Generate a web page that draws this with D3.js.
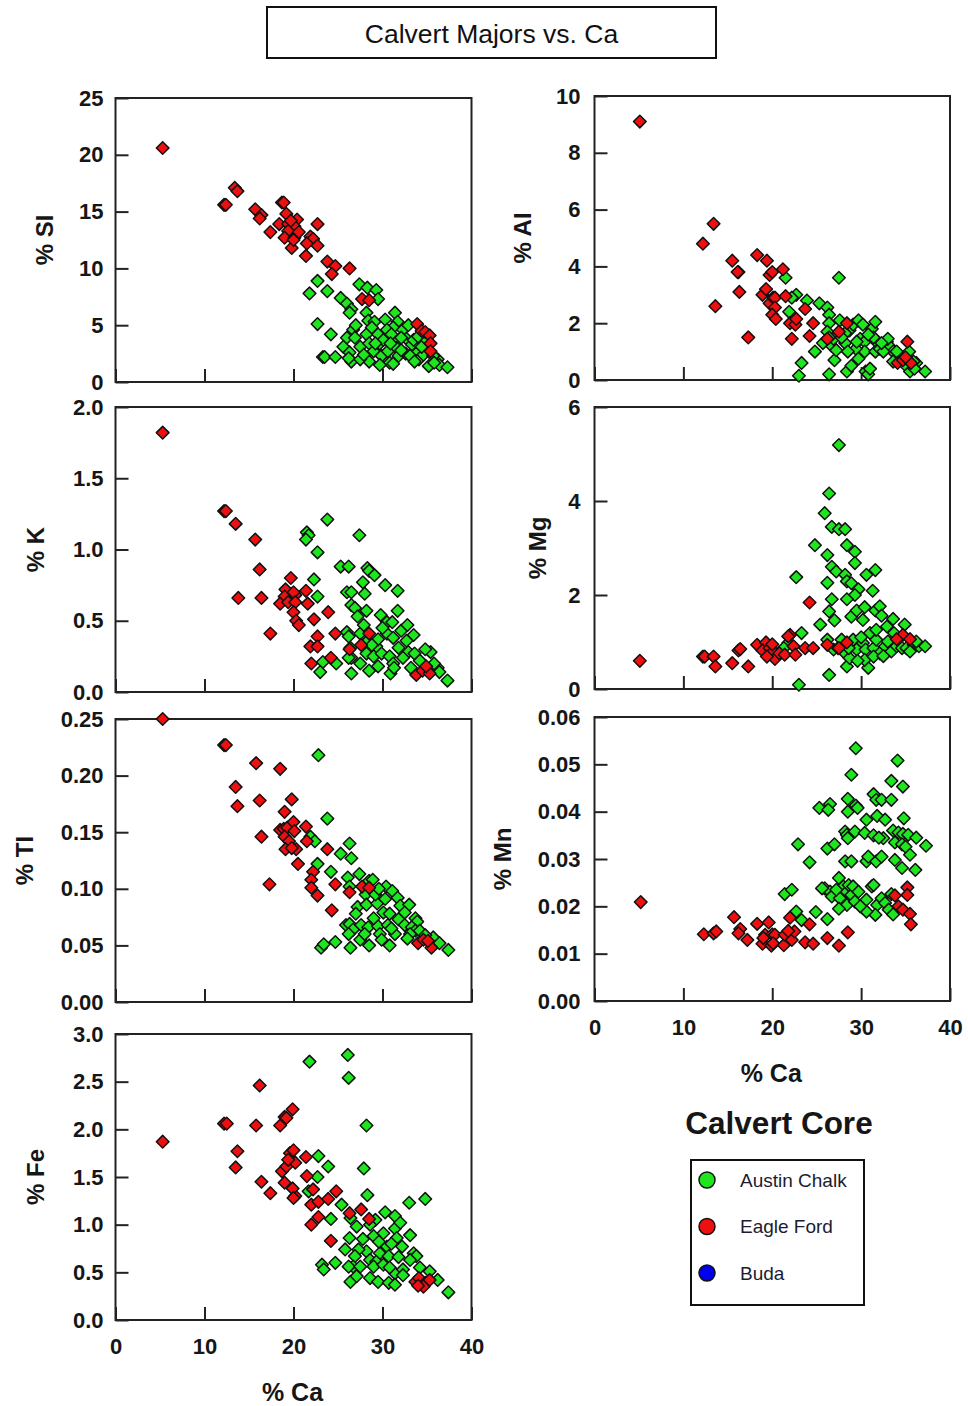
<!DOCTYPE html>
<html>
<head>
<meta charset="utf-8">
<script src="https://cdn.jsdelivr.net/npm/d3@7"></script>
<style>
  body { margin: 0; background: #fff; }
  svg { display: block; }
</style>
</head>
<body>
<div id="chart"></div>
<script>
// ---- data: [ % Ca , % element ] ----
const siChalk = [[22.7,8.9],[21.8,7.8],[23.8,8.0],[22.7,5.1],[24.2,4.2],[23.3,2.2],[23.5,2.2],[24.7,2.2],[25.3,7.4],[26.0,6.9],[26.5,6.4],[26.3,6.1],[27.4,8.6],[28.3,8.3],[29.3,8.1],[29.5,7.3],[28.2,6.1],[28.4,5.4],[29.1,5.3],[30.3,5.5],[31.4,6.1],[31.7,5.3],[26.7,4.6],[26.0,3.9],[26.9,3.9],[25.6,3.1],[26.3,2.6],[26.5,1.8],[26.2,2.1],[27.5,3.1],[28.2,4.2],[28.5,3.4],[28.5,1.8],[29.0,2.7],[29.7,3.4],[29.9,2.3],[30.5,3.9],[30.6,2.7],[30.8,1.7],[31.2,4.8],[31.4,3.5],[31.6,3.0],[31.8,2.3],[32.3,4.6],[32.7,3.8],[32.6,2.5],[33.3,3.3],[33.5,3.7],[33.8,2.5],[34.1,2.0],[34.6,2.4],[35.2,1.4],[36.2,2.0],[36.4,1.5],[37.3,1.3],[34.4,3.1],[35.0,3.7],[35.7,2.3],[30.5,4.6],[29.5,4.2],[30.1,3.7],[29.2,3.4],[31.0,4.2],[32.1,2.8],[33.1,2.3],[32.1,3.9],[30.9,3.4],[34.0,4.0],[27.5,2.0],[27.9,2.4],[28.8,4.8],[27.0,5.0],[32.9,5.0],[33.6,1.8],[31.2,1.6],[29.7,1.5],[35.8,1.7]];
const siEagle = [[5.3,20.6],[13.4,17.1],[13.7,16.8],[12.2,15.6],[12.4,15.6],[15.7,15.2],[16.4,14.7],[16.2,14.4],[17.4,13.2],[18.7,15.8],[18.9,15.8],[19.2,14.8],[18.4,13.9],[19.4,13.9],[20.4,14.3],[20.1,13.7],[19.4,13.3],[19.0,12.7],[20.1,12.7],[19.8,11.8],[20.6,13.2],[19.7,14.2],[20.0,12.5],[22.7,13.9],[21.9,12.8],[22.2,12.6],[21.5,12.2],[22.7,12.0],[21.4,11.1],[23.8,10.6],[24.7,10.2],[24.3,9.5],[26.3,10.0],[27.7,7.3],[28.5,7.2],[33.9,5.1],[34.4,4.5],[34.8,4.4],[35.3,4.1],[35.4,3.4],[35.4,2.7]];

const alChalk = [[21.5,3.6],[27.5,3.6],[22.7,3.0],[22.2,2.9],[21.9,2.4],[23.9,2.8],[25.3,2.7],[26.2,2.55],[26.4,2.3],[26.4,2.0],[24.8,1.0],[23.3,0.6],[23.0,0.15],[26.4,0.2],[28.4,0.3],[28.9,0.5],[30.5,0.3],[30.8,0.2],[31.0,0.4],[26.2,1.7],[26.7,1.2],[27.0,0.7],[26.9,1.45],[27.6,2.1],[28.7,1.75],[28.2,1.3],[29.1,1.95],[29.7,2.1],[29.9,1.45],[30.4,1.35],[30.4,1.0],[30.2,1.95],[31.2,1.8],[31.6,2.05],[31.7,1.35],[31.6,1.0],[32.1,1.1],[32.9,1.35],[33.3,1.15],[33.6,1.0],[33.0,1.45],[34.4,0.75],[34.9,0.55],[35.4,1.0],[36.2,0.6],[37.2,0.3],[35.5,0.3],[28.2,1.65],[27.2,1.05],[29.4,1.1],[25.7,1.3],[26.4,1.5],[28.5,1.0],[29.5,1.35],[31.4,1.5],[32.5,1.0],[33.6,0.65],[34.0,1.0],[35.9,0.65],[29.7,0.75],[27.8,1.5],[30.8,1.6],[32.3,1.3],[36.0,0.4]];
const alEagle = [[5.1,9.1],[13.4,5.5],[12.2,4.8],[13.6,2.6],[15.5,4.2],[16.2,3.8],[16.1,3.8],[16.3,3.1],[17.3,1.5],[18.3,4.4],[19.4,4.2],[19.7,3.7],[20.0,3.8],[18.9,3.0],[19.3,3.2],[19.7,2.7],[20.1,2.9],[20.3,2.9],[20.3,2.55],[20.0,2.3],[20.4,2.15],[21.2,3.9],[21.5,2.95],[22.0,2.0],[22.6,1.95],[22.7,2.15],[22.2,1.45],[23.7,2.5],[24.2,1.55],[24.6,2.0],[26.2,1.45],[27.5,1.7],[28.4,2.0],[35.2,1.35],[34.1,0.6],[34.7,0.7],[35.6,0.6],[35.0,0.8]];

const kChalk = [[23.8,1.21],[21.5,1.12],[21.7,1.10],[21.4,1.07],[22.7,0.98],[27.4,1.10],[22.3,0.79],[22.7,0.67],[25.3,0.88],[26.2,0.88],[28.3,0.87],[28.5,0.85],[29.1,0.82],[27.8,0.77],[26.0,0.70],[26.5,0.70],[28.0,0.69],[30.3,0.75],[31.7,0.71],[26.5,0.61],[26.9,0.59],[28.2,0.57],[31.7,0.57],[29.8,0.54],[30.5,0.49],[31.1,0.49],[27.2,0.53],[26.0,0.42],[26.2,0.39],[26.4,0.31],[26.5,0.24],[26.5,0.13],[28.2,0.35],[28.2,0.27],[28.5,0.15],[27.5,0.20],[29.3,0.32],[29.0,0.25],[29.9,0.27],[30.8,0.25],[30.9,0.13],[32.1,0.43],[33.5,0.40],[32.7,0.36],[31.8,0.31],[32.9,0.28],[33.6,0.27],[32.3,0.24],[31.2,0.20],[31.3,0.17],[35.4,0.28],[36.2,0.17],[37.3,0.08],[36.4,0.14],[23.3,0.21],[23.0,0.14],[24.8,0.20],[30.5,0.41],[31.2,0.38],[29.5,0.37],[28.8,0.33],[26.2,0.24],[27.5,0.41],[30.0,0.45],[32.8,0.47],[34.2,0.22],[34.8,0.30],[35.8,0.20],[33.2,0.17],[27.9,0.47],[29.5,0.18]];
const kEagle = [[5.3,1.82],[12.2,1.27],[12.4,1.27],[13.5,1.18],[15.7,1.07],[16.2,0.86],[13.8,0.66],[16.4,0.66],[17.4,0.41],[19.7,0.80],[19.1,0.72],[20.2,0.68],[20.0,0.70],[19.0,0.67],[18.5,0.62],[19.4,0.63],[20.2,0.63],[20.0,0.56],[20.3,0.50],[20.6,0.47],[21.4,0.71],[21.6,0.62],[22.3,0.51],[22.7,0.39],[21.9,0.32],[22.7,0.32],[22.0,0.20],[24.2,0.24],[23.9,0.56],[24.7,0.41],[26.3,0.30],[27.6,0.33],[28.5,0.41],[33.8,0.12],[34.5,0.15],[35.3,0.13],[34.9,0.18]];

const mgChalk = [[27.5,5.19],[26.4,4.16],[25.9,3.74],[26.7,3.45],[27.5,3.40],[28.2,3.40],[24.8,3.06],[26.2,2.85],[28.4,3.06],[29.3,2.92],[29.3,2.68],[26.7,2.60],[27.2,2.50],[28.2,2.43],[28.4,2.29],[28.9,2.25],[29.7,2.12],[29.3,2.0],[30.6,2.43],[31.6,2.53],[31.3,2.09],[26.2,2.26],[26.7,1.91],[28.4,1.91],[22.7,2.38],[23.3,1.19],[23.0,0.09],[25.4,1.37],[26.4,1.65],[27.0,1.46],[28.9,1.54],[29.5,1.67],[30.2,1.47],[30.4,1.74],[31.6,1.67],[32.1,1.76],[32.3,1.56],[32.9,1.33],[33.6,1.49],[34.9,1.37],[26.4,0.30],[28.4,0.48],[30.8,0.45],[26.2,1.05],[26.9,0.84],[27.8,1.05],[28.2,0.76],[28.7,0.66],[29.1,1.05],[29.5,0.84],[30.2,0.98],[30.5,0.84],[30.4,0.62],[31.0,1.19],[31.4,0.87],[31.7,1.05],[32.1,0.76],[32.7,0.91],[33.0,1.01],[33.4,0.80],[34.0,0.91],[34.6,0.87],[35.1,0.87],[35.9,0.94],[36.5,0.91],[37.2,0.91],[36.2,1.01],[33.7,1.19],[27.4,0.87],[28.6,0.87],[31.4,0.69],[31.7,1.26],[21.8,0.98],[21.3,0.87],[29.6,0.60],[32.5,0.70],[35.5,0.80],[30.0,1.10]];
const mgEagle = [[5.1,0.60],[12.2,0.69],[12.4,0.69],[13.4,0.69],[13.6,0.48],[15.5,0.55],[16.2,0.82],[16.4,0.85],[17.3,0.48],[18.3,0.94],[19.3,0.99],[18.9,0.82],[19.7,0.87],[20.1,0.80],[20.3,0.64],[19.4,0.69],[20.8,0.76],[21.4,0.73],[22.0,1.15],[22.4,0.91],[22.6,0.73],[24.2,1.84],[23.7,0.87],[24.6,0.87],[26.2,0.94],[27.5,0.87],[28.4,0.99],[34.7,1.15],[35.5,1.06],[34.0,1.06],[21.8,1.12],[20.0,0.95]];

const tiChalk = [[22.8,0.218],[23.8,0.162],[21.9,0.146],[22.4,0.142],[22.7,0.122],[24.2,0.115],[25.3,0.131],[26.3,0.140],[26.5,0.127],[26.1,0.110],[27.4,0.113],[26.3,0.102],[28.5,0.107],[28.9,0.108],[28.1,0.095],[30.4,0.102],[31.1,0.098],[31.7,0.092],[27.2,0.084],[28.2,0.086],[29.4,0.087],[30.3,0.091],[32.0,0.085],[33.0,0.086],[32.5,0.079],[33.7,0.074],[33.9,0.071],[25.9,0.068],[26.3,0.069],[26.7,0.064],[26.2,0.060],[27.6,0.068],[28.4,0.066],[29.5,0.067],[29.7,0.060],[30.6,0.068],[31.4,0.060],[29.0,0.074],[30.1,0.079],[31.8,0.073],[32.5,0.068],[33.3,0.066],[33.7,0.063],[27.5,0.055],[28.5,0.050],[26.4,0.048],[30.8,0.050],[23.1,0.048],[23.4,0.051],[24.7,0.053],[35.7,0.057],[36.4,0.052],[37.4,0.046],[33.1,0.060],[34.2,0.063],[29.2,0.095],[30.8,0.078],[27.0,0.078],[28.0,0.060],[31.0,0.065],[32.8,0.056],[34.8,0.059],[29.9,0.055],[29.6,0.100]];
const tiEagle = [[5.3,0.250],[12.2,0.227],[12.4,0.227],[15.8,0.211],[18.5,0.206],[13.5,0.190],[13.7,0.173],[16.2,0.178],[19.8,0.179],[16.4,0.146],[17.3,0.104],[19.0,0.168],[18.5,0.152],[18.9,0.153],[19.3,0.154],[20.0,0.159],[20.1,0.151],[19.0,0.146],[19.5,0.142],[19.1,0.135],[20.3,0.135],[19.8,0.136],[20.5,0.122],[21.4,0.155],[21.5,0.142],[23.8,0.135],[22.2,0.115],[22.0,0.108],[22.0,0.101],[22.7,0.094],[24.7,0.104],[24.3,0.081],[27.7,0.102],[28.5,0.101],[26.3,0.097],[34.0,0.052],[34.6,0.055],[35.5,0.048],[35.1,0.054]];

const mnChalk = [[29.4,0.0534],[34.1,0.0508],[28.9,0.0478],[33.4,0.0465],[34.7,0.0453],[28.5,0.0427],[31.4,0.0437],[31.7,0.0425],[32.3,0.0425],[33.4,0.0425],[25.3,0.0408],[26.5,0.0416],[26.3,0.0404],[28.5,0.0400],[29.4,0.0413],[29.6,0.0408],[30.6,0.0383],[31.8,0.0391],[32.7,0.0383],[34.8,0.0386],[28.2,0.0358],[28.4,0.0351],[29.3,0.0358],[30.4,0.0355],[31.4,0.0350],[33.6,0.0360],[34.2,0.0356],[34.7,0.0353],[35.3,0.0351],[36.2,0.0345],[37.3,0.0328],[28.5,0.0344],[32.5,0.0344],[33.8,0.0335],[34.6,0.0331],[35.0,0.0326],[22.9,0.0331],[26.2,0.0322],[27.0,0.0331],[24.2,0.0293],[28.2,0.0295],[28.9,0.0295],[30.6,0.0295],[31.7,0.0295],[32.3,0.0305],[33.8,0.0298],[34.6,0.0281],[35.5,0.0309],[36.1,0.0277],[21.4,0.0226],[22.2,0.0235],[22.7,0.0189],[23.3,0.0171],[24.9,0.0188],[26.2,0.0173],[25.9,0.0238],[26.5,0.0231],[26.7,0.0221],[27.5,0.0260],[28.0,0.0242],[28.4,0.0231],[28.6,0.0245],[28.9,0.0224],[29.1,0.0242],[29.7,0.0231],[27.6,0.0217],[28.4,0.0203],[27.5,0.0195],[29.3,0.0210],[30.2,0.0196],[30.6,0.0214],[31.2,0.0242],[31.4,0.0245],[31.8,0.0203],[31.6,0.0182],[32.3,0.0217],[32.7,0.0207],[33.1,0.0193],[33.6,0.0183],[33.4,0.0226],[30.6,0.0189],[29.9,0.0200],[27.2,0.0235],[25.6,0.0238],[30.8,0.0305],[32.0,0.0345]];
const mnEagle = [[5.2,0.0209],[12.3,0.0141],[13.4,0.0143],[13.7,0.0147],[15.7,0.0177],[16.4,0.0152],[16.2,0.0143],[17.2,0.0129],[18.3,0.0163],[19.6,0.0166],[18.9,0.0121],[19.2,0.0140],[19.9,0.0117],[20.0,0.0141],[20.3,0.0140],[20.1,0.0122],[21.3,0.0118],[21.4,0.0140],[22.0,0.0176],[22.2,0.0129],[22.5,0.0147],[23.7,0.0124],[24.2,0.0162],[24.6,0.0121],[26.2,0.0133],[27.5,0.0117],[28.5,0.0145],[33.8,0.0223],[35.2,0.0240],[35.2,0.0224],[34.2,0.0200],[34.7,0.0193],[35.5,0.0184],[35.6,0.0162],[19.0,0.0133],[21.8,0.0148]];

const feChalk = [[21.8,2.71],[26.1,2.78],[26.2,2.54],[28.2,2.04],[27.9,1.59],[28.3,1.31],[22.8,1.72],[23.9,1.61],[22.7,1.50],[21.7,1.35],[25.4,1.21],[24.2,1.06],[26.4,1.07],[27.1,0.98],[26.3,0.86],[25.8,0.74],[30.3,1.13],[31.4,1.09],[31.4,0.96],[29.2,1.05],[30.1,0.91],[29.0,0.88],[31.6,0.86],[33.1,0.89],[32.2,0.77],[33.5,0.70],[33.8,0.67],[33.1,0.63],[30.5,0.77],[29.7,0.70],[28.2,0.72],[27.3,0.74],[26.9,0.67],[28.6,0.63],[29.3,0.61],[30.7,0.67],[31.8,0.66],[26.7,0.56],[26.2,0.56],[27.5,0.56],[29.0,0.56],[30.1,0.58],[31.4,0.49],[32.3,0.53],[23.2,0.58],[23.4,0.53],[24.7,0.60],[26.4,0.40],[27.1,0.46],[28.6,0.44],[29.5,0.40],[30.7,0.39],[31.4,0.37],[32.3,0.47],[35.3,0.51],[36.2,0.42],[37.4,0.29],[33.0,1.23],[34.8,1.27],[28.6,1.00],[32.0,1.02],[27.8,0.85],[30.8,0.55],[34.2,0.55],[31.0,0.80],[29.6,0.82]];
const feEagle = [[5.3,1.87],[12.2,2.06],[12.5,2.06],[13.7,1.77],[13.5,1.60],[15.8,2.04],[16.2,2.46],[16.4,1.45],[17.4,1.33],[18.5,2.04],[19.0,2.13],[19.2,2.12],[19.9,2.21],[18.7,1.56],[19.2,1.61],[19.6,1.75],[20.0,1.78],[20.2,1.65],[19.4,1.68],[19.0,1.44],[20.2,1.30],[19.9,1.38],[21.4,1.71],[21.5,1.51],[22.2,1.37],[22.0,1.21],[22.8,1.24],[22.0,1.00],[22.8,1.08],[23.9,1.27],[24.8,1.35],[24.2,0.83],[26.3,1.12],[27.6,1.16],[28.5,1.06],[33.7,0.40],[34.1,0.44],[34.8,0.39],[35.3,0.42],[34.6,0.35],[34.0,0.36],[20.0,1.28]];

// tick labels
const caTicks = [0, 10, 20, 30, 40];
const siTicks = [0, 5, 10, 15, 20, 25];
const alTicks = [0, 2, 4, 6, 8, 10];
const kTicks  = [0, 0.5, 1.0, 1.5, 2.0];
const mgTicks = [0, 2, 4, 6];
const tiTicks = [0, 0.05, 0.10, 0.15, 0.20, 0.25];
const mnTicks = [0, 0.01, 0.02, 0.03, 0.04, 0.05, 0.06];
const feTicks = [0, 0.5, 1.0, 1.5, 2.0, 2.5, 3.0];

const seriesNames  = ["Austin Chalk", "Eagle Ford", "Buda"];
const seriesColors = ["#1ee61e", "#ee1010", "#0000ee"];

// ---- layout ----
const width = 968, height = 1406;
const cols = [{left: 115.5, right: 471.5}, {left: 594.5, right: 950}];
const tickFont = "'Liberation Sans', Arial, sans-serif";

const panels = [
  {label: "% SI", chalk: siChalk, eagle: siEagle, max: 25,   ticks: siTicks, fmt: "d",   col: 0, top: 98,   bottom: 382,  titleX: 45},
  {label: "% AI", chalk: alChalk, eagle: alEagle, max: 10,   ticks: alTicks, fmt: "d",   col: 1, top: 96,   bottom: 380,  titleX: 523},
  {label: "% K",  chalk: kChalk,  eagle: kEagle,  max: 2,    ticks: kTicks,  fmt: ".1f", col: 0, top: 407,  bottom: 692,  titleX: 36},
  {label: "% Mg", chalk: mgChalk, eagle: mgEagle, max: 6,    ticks: mgTicks, fmt: "d",   col: 1, top: 407,  bottom: 689,  titleX: 538},
  {label: "% TI", chalk: tiChalk, eagle: tiEagle, max: 0.25, ticks: tiTicks, fmt: ".2f", col: 0, top: 719,  bottom: 1002, titleX: 25},
  {label: "% Mn", chalk: mnChalk, eagle: mnEagle, max: 0.06, ticks: mnTicks, fmt: ".2f", col: 1, top: 717,  bottom: 1001, titleX: 503, xLabels: true},
  {label: "% Fe", chalk: feChalk, eagle: feEagle, max: 3,    ticks: feTicks, fmt: ".1f", col: 0, top: 1034, bottom: 1320, titleX: 36,  xLabels: true}
];

const svg = d3.select("#chart")
  .append("svg")
    .attr("width", width)
    .attr("height", height)
    .style("background", "#fff");

// title box
svg.append("rect")
  .attr("x", 267).attr("y", 7)
  .attr("width", 449).attr("height", 51)
  .attr("fill", "#fff")
  .attr("stroke", "#111")
  .attr("stroke-width", 2);

svg.append("text")
  .attr("x", 491.5).attr("y", 33)
  .attr("dy", "0.36em")
  .attr("text-anchor", "middle")
  .style("font-family", tickFont)
  .style("font-size", "26.5px")
  .style("fill", "#111")
  .text("Calvert Majors vs. Ca");

const diamond = d3.symbol(d3.symbolSquare, 80)();

panels.forEach(function(p) {
  const c = cols[p.col];

  let x = d3.scaleLinear().domain([0, 40]).range([c.left, c.right]);
  let y = d3.scaleLinear().domain([0, p.max]).range([p.bottom, p.top]);

  const g = svg.append("g");

  // X axis (inward ticks)
  let xAxis = d3.axisBottom(x)
    .tickValues(caTicks)
    .tickSizeInner(-13)
    .tickSizeOuter(0)
    .tickPadding(18);
  if (!p.xLabels) xAxis.tickFormat("");

  const gx = g.append("g")
    .attr("transform", "translate(0," + p.bottom + ")")
    .call(xAxis);

  // Y axis
  let yAxis = d3.axisLeft(y)
    .tickValues(p.ticks)
    .tickSizeInner(-13)
    .tickSizeOuter(0)
    .tickPadding(p.col === 0 ? 12 : 14)
    .tickFormat(d3.format(p.fmt));

  const gy = g.append("g")
    .attr("transform", "translate(" + c.left + ",0)")
    .call(yAxis);

  [gx, gy].forEach(function(a) {
    a.select(".domain").remove();
    a.selectAll("line").attr("stroke", "#222").attr("stroke-width", 2);
    a.selectAll("text")
      .style("font-family", tickFont)
      .style("font-size", "22px")
      .style("font-weight", "bold")
      .style("fill", "#161616");
  });

  // frame
  g.append("rect")
    .attr("x", c.left).attr("y", p.top)
    .attr("width", c.right - c.left)
    .attr("height", p.bottom - p.top)
    .attr("fill", "none")
    .attr("stroke", "#222")
    .attr("stroke-width", 2);

  // points: chalk first, eagle ford on top
  [[p.chalk, seriesColors[0]], [p.eagle, seriesColors[1]]].forEach(function(s) {
    g.selectAll(null)
      .data(s[0])
      .enter()
      .append("path")
      .attr("d", diamond)
      .attr("transform", function(d) {
        return "translate(" + x(d[0]) + "," + y(d[1]) + ") rotate(45)";
      })
      .attr("fill", s[1])
      .attr("stroke", "#111")
      .attr("stroke-width", 1.5)
      .attr("stroke-linejoin", "round");
  });

  // y title
  g.append("text")
    .attr("transform", "translate(" + p.titleX + "," + ((p.top + p.bottom) / 2) + ") rotate(-90)")
    .attr("dy", "0.35em")
    .attr("text-anchor", "middle")
    .style("font-family", tickFont)
    .style("font-size", "24px")
    .style("font-weight", "bold")
    .style("fill", "#161616")
    .text(p.label);

  // x title
  if (p.xLabels) {
    g.append("text")
      .attr("x", (c.left + c.right) / 2 - 1)
      .attr("y", p.bottom + 81)
      .attr("text-anchor", "middle")
      .style("font-family", tickFont)
      .style("font-size", "25px")
      .style("font-weight", "bold")
      .style("fill", "#161616")
      .text("% Ca");
  }
});

// legend title
svg.append("text")
  .attr("x", 779).attr("y", 1134)
  .attr("text-anchor", "middle")
  .style("font-family", tickFont)
  .style("font-size", "31.5px")
  .style("font-weight", "bold")
  .style("fill", "#161616")
  .text("Calvert Core");

// legend box
svg.append("rect")
  .attr("x", 691).attr("y", 1160)
  .attr("width", 173).attr("height", 145)
  .attr("fill", "#fff")
  .attr("stroke", "#111")
  .attr("stroke-width", 2);

const legend = svg.selectAll(".legend-item")
  .data(seriesNames)
  .enter()
  .append("g")
    .attr("class", "legend-item")
    .attr("transform", function(d, i) { return "translate(707," + (1180 + i * 46.5) + ")"; });

legend.append("circle")
  .attr("r", 8)
  .attr("fill", function(d, i) { return seriesColors[i]; })
  .attr("stroke", "#111")
  .attr("stroke-width", 1.5);

legend.append("text")
  .attr("x", 33)
  .attr("dy", "0.35em")
  .style("font-family", tickFont)
  .style("font-size", "19px")
  .style("fill", "#1c1c30")
  .text(function(d) { return d; });
</script>
</body>
</html>
